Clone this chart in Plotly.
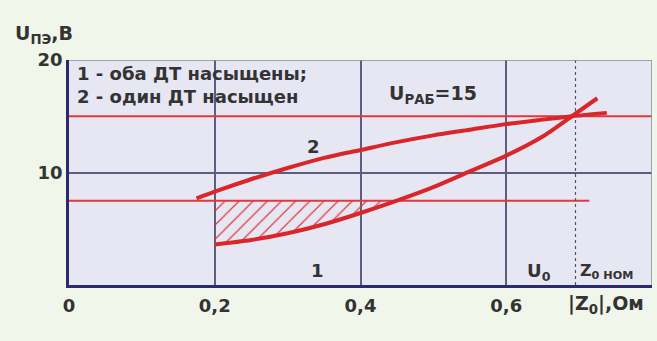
import plotly.graph_objects as go

# Supply voltage vs. |Z0| for the two saturation modes
z_curve1 = [0.20, 0.25, 0.30, 0.35, 0.40, 0.45, 0.50, 0.55, 0.60, 0.65, 0.69, 0.725]
u_curve1 = [3.6, 4.0, 4.6, 5.4, 6.4, 7.5, 8.7, 10.1, 11.5, 13.2, 15.0, 16.6]

z_curve2 = [0.175, 0.20, 0.25, 0.30, 0.35, 0.40, 0.45, 0.50, 0.55, 0.60, 0.65, 0.69, 0.738]
u_curve2 = [7.7, 8.3, 9.4, 10.4, 11.3, 12.0, 12.7, 13.3, 13.8, 14.3, 14.7, 15.0, 15.3]

u_work = 15.0       # U_РАБ level
u_zero = 7.5        # U0 level
u_zero_end = 0.714  # where the U0 line stops
z_nom = 0.695       # Z0 НОМ marker

x_ticks = [0, 0.2, 0.4, 0.6]
x_tick_text = ["0", "0,2", "0,4", "0,6"]
y_ticks = [10, 20]
y_tick_text = ["10", "20"]

RED = "#d8262b"
RED_THIN = "#e5363a"
GRID = "#5d5d82"
FRAME = "#2b2b6b"
TXT = "#333333"
FONT = "DejaVu Sans"

fig = go.Figure()

# Hatched region between curve 1 and the U0 level
k = z_curve1.index(0.45) + 1
hx = z_curve1[:k] + [z_curve1[k - 1], z_curve1[0]]
hy = u_curve1[:k] + [u_zero, u_zero]
fig.add_trace(go.Scatter(
    x=hx, y=hy, mode="lines", fill="toself",
    line=dict(width=0, color="rgba(0,0,0,0)"),
    fillcolor="rgba(0,0,0,0)",
    fillpattern=dict(shape="/", fgcolor=RED_THIN, bgcolor="rgba(0,0,0,0)",
                     size=10, solidity=0.12, fillmode="replace"),
    hoverinfo="skip", showlegend=False))

# Horizontal reference levels
fig.add_trace(go.Scatter(x=[0, 0.8], y=[u_work, u_work], mode="lines",
                         line=dict(color=RED_THIN, width=2), showlegend=False))
fig.add_trace(go.Scatter(x=[0, u_zero_end], y=[u_zero, u_zero], mode="lines",
                         line=dict(color=RED_THIN, width=2), showlegend=False))

# Nominal Z0 marker
fig.add_trace(go.Scatter(x=[z_nom, z_nom], y=[0, 20], mode="lines",
                         line=dict(color="#55556a", width=1.2, dash="3px,3px"),
                         showlegend=False))

# Curves 1 and 2
fig.add_trace(go.Scatter(x=z_curve1, y=u_curve1, mode="lines",
                         line=dict(color=RED, width=4, shape="spline", smoothing=0.8),
                         showlegend=False))
fig.add_trace(go.Scatter(x=z_curve2, y=u_curve2, mode="lines",
                         line=dict(color=RED, width=4, shape="spline", smoothing=0.8),
                         showlegend=False))

# Top and right frame edges
fig.add_shape(type="line", xref="x", yref="y", x0=0, x1=0.8, y0=20, y1=20,
              line=dict(color="#8a8a9a", width=1.5))
fig.add_shape(type="line", xref="x", yref="y", x0=0.8, x1=0.8, y0=0, y1=20,
              line=dict(color="#8a8a9a", width=1.5))

ann = []
def label(text, x, y, size=18, xref="x", yref="y", xanchor="center",
          yanchor="middle", align="center"):
    ann.append(dict(text=text, x=x, y=y, xref=xref, yref=yref, showarrow=False,
                    xanchor=xanchor, yanchor=yanchor, align=align,
                    font=dict(family=FONT, size=size, color=TXT, weight="bold")))

label("1 - оба ДТ насыщены;<br>2 - один ДТ насыщен", 0.008, 19.9,
      size=18, xanchor="left", yanchor="top", align="left")
label("U<sub>РАБ</sub>=15", 0.500, 16.9, size=19)
label("2", 0.336, 12.3, size=18)
label("1", 0.341, 1.3, size=18)
label("U<sub>0</sub>", 0.645, 1.2, size=18)
label("Z<sub>0 НОМ</sub>", z_nom + 0.003, 1.2, size=16, xanchor="left")
# Axis titles in paper coordinates (outside the plotting area)
label("|Z<sub>0</sub>|,Ом", 0.921, -0.088, size=19, xref="paper", yref="paper")
label("U<sub>ПЭ</sub>,В", -0.096, 1.115, size=19, xref="paper", yref="paper",
      xanchor="left")

fig.update_layout(
    width=657, height=341,
    margin=dict(l=69, r=5, t=60, b=56),
    paper_bgcolor="#f1f6ea",
    plot_bgcolor="#e7e6f3",
    annotations=ann,
    xaxis=dict(range=[0, 0.8], tickvals=x_ticks, ticktext=x_tick_text,
               showgrid=True, gridcolor=GRID, gridwidth=1.5,
               showline=True, linecolor=FRAME, linewidth=2.5,
               zeroline=False, ticks="", ticklen=0, ticklabelstandoff=3,
               tickfont=dict(family=FONT, size=18, color=TXT, weight="bold")),
    yaxis=dict(range=[0, 20], tickvals=y_ticks, ticktext=y_tick_text,
               showgrid=True, gridcolor=GRID, gridwidth=1.5,
               showline=True, linecolor=FRAME, linewidth=2.5,
               zeroline=False, ticks="", ticklen=0,
               tickfont=dict(family=FONT, size=18, color=TXT, weight="bold")),
)

fig.write_html("out.html")
